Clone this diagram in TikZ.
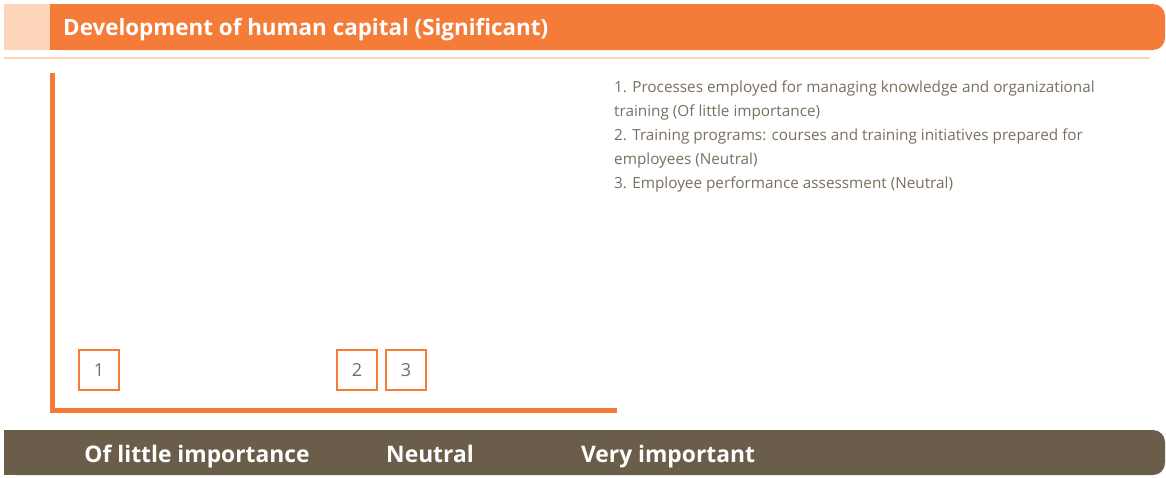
\documentclass[tikz,border=0pt]{standalone}
\usepackage{fontspec}
\setmainfont{Open Sans}
\usepackage{tikz}
\usetikzlibrary{positioning}

\definecolor{hrorange}{HTML}{F47B38}
\definecolor{hrpeach}{HTML}{FCD5B8}
\definecolor{hrbrown}{HTML}{6A5E4B}
\definecolor{hrgray}{HTML}{7A6E5E}

\begin{document}
\begin{tikzpicture}[x=1pt,y=-1pt]

% Define bar, axis and item box styles
\tikzstyle{titletext} = [white, font=\fontsize{22.4}{26}\selectfont\bfseries,
    inner sep=0pt, anchor=base west]
\tikzstyle{scaletext} = [white, font=\fontsize{22.8}{26}\selectfont\bfseries,
    inner sep=0pt, anchor=base]
\tikzstyle{axis} = [draw=hrorange, line width=4.5pt]
\tikzstyle{itembox} = [draw=hrorange, line width=2pt, fill=white,
    rectangle, minimum size=40pt, inner sep=0pt, text=hrgray,
    font=\fontsize{18}{20}\selectfont]
\tikzstyle{legend} = [text=hrgray, align=left, inner sep=0pt,
    anchor=base west, font=\fontsize{15.3}{24}\selectfont]

\useasboundingbox (0,0) rectangle (1166,477);

% heading bar
\fill[hrpeach] (4,4) rectangle (50,50);
\fill[hrorange, rounded corners=12pt] (50,4) rectangle (1165,50);
\fill[hrorange] (50,4) rectangle (80,50);
\node[titletext] (title) at (63,35) {Development of human capital (Significant)};
\draw[hrpeach, line width=1.2pt] (4,58) -- (1150,58);

% axes
\coordinate (top) at (52.5,73);
\coordinate (corner) at (52.5,410.5);
\coordinate (end) at (617,410.5);
\draw[axis] (top) -- ([yshift=2.25pt]corner) ([xshift=-2.25pt]corner) -- (end);

% items
\node[itembox] (item1) at (99,370) {1};
\node[itembox] (item2) at (357,370) {2};
\node[itembox, right=7pt of item2] (item3) {3};

% legend (anchored on the baseline of its last line)
\node[legend] (list) at (614,188) {%
    1. Processes employed for managing knowledge and organizational\\
    training (Of little importance)\\
    2. Training programs: courses and training initiatives prepared for\\
    employees (Neutral)\\
    3. Employee performance assessment (Neutral)};

% scale bar
\fill[hrbrown, rounded corners=12pt] (4,430) rectangle (1165,475);
\fill[hrbrown] (4,430) rectangle (40,475);
\node[scaletext] (low) at (197,462) {Of little importance};
\node[scaletext] (mid) at (430,462) {Neutral};
\node[scaletext] (high) at (668,462) {Very important};

\end{tikzpicture}
\end{document}
